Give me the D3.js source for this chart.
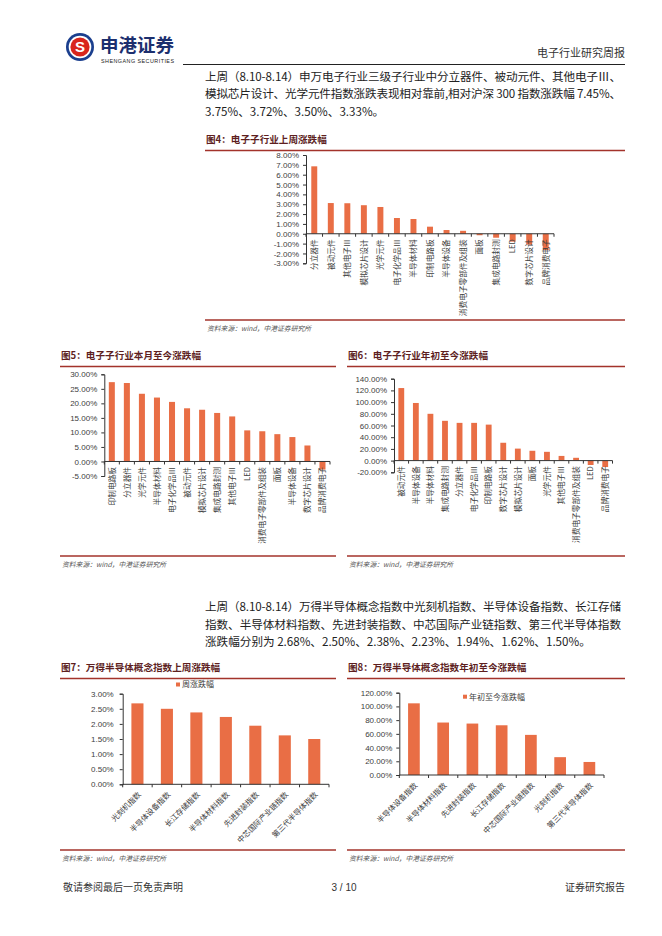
<!DOCTYPE html>
<html>
<head>
<meta charset="utf-8">
<script src="https://cdn.jsdelivr.net/npm/d3@7"></script>
<style>
  body { margin: 0; background: #fff; }
  svg { display: block; }
  .cjk { font-family: "Noto Sans CJK SC", sans-serif; }
  .num { font-family: "Liberation Sans", Arial, sans-serif; }
</style>
</head>
<body>
<div id="page"></div>
<script>
// ---- data ----
var fig4Cats = ["分立器件", "被动元件", "其他电子Ⅲ", "模拟芯片设计", "光学元件", "电子化学品Ⅲ", "半导体材料",
  "印制电路板", "半导体设备", "消费电子零部件及组装", "面板", "集成电路封测", "LED", "数字芯片设计", "品牌消费电子"];
var fig4Vals = [6.85, 3.12, 3.10, 2.90, 2.72, 1.60, 1.50, 0.72, 0.38, 0.30, -0.15, -0.40, -0.80, -1.10, -1.65];
var fig4Ticks = [-3, -2, -1, 0, 1, 2, 3, 4, 5, 6, 7, 8];

var fig5Cats = ["印制电路板", "分立器件", "光学元件", "半导体材料", "电子化学品Ⅲ", "被动元件", "模拟芯片设计",
  "集成电路封测", "其他电子Ⅲ", "LED", "消费电子零部件及组装", "面板", "半导体设备", "数字芯片设计", "品牌消费电子"];
var fig5Vals = [27.3, 27.0, 23.3, 22.0, 20.5, 18.3, 17.8, 16.7, 15.5, 10.7, 10.4, 9.4, 8.4, 5.5, -2.8];
var fig5Ticks = [-5, 0, 5, 10, 15, 20, 25, 30];

var fig6Cats = ["被动元件", "半导体设备", "半导体材料", "集成电路封测", "分立器件", "电子化学品Ⅲ", "印制电路板",
  "数字芯片设计", "模拟芯片设计", "面板", "光学元件", "其他电子Ⅲ", "消费电子零部件及组装", "LED", "品牌消费电子"];
var fig6Vals = [124, 98.5, 80, 68, 64.5, 64.5, 61.5, 30.5, 20.5, 16.8, 15, 8, 4.8, -7.5, -11];
var fig6Ticks = [-20, 0, 20, 40, 60, 80, 100, 120, 140];

var fig7Cats = ["光刻机指数", "半导体设备指数", "长江存储指数", "半导体材料指数", "先进封装指数", "中芯国际产业链指数", "第三代半导体指数"];
var fig7Vals = [2.68, 2.50, 2.38, 2.23, 1.94, 1.62, 1.50];
var fig7Ticks = [0, 0.5, 1, 1.5, 2, 2.5, 3];

var fig8Cats = ["半导体设备指数", "半导体材料指数", "先进封装指数", "长江存储指数", "中芯国际产业链指数", "光刻机指数", "第三代半导体指数"];
var fig8Vals = [104.5, 76.5, 75, 72.5, 58.5, 26, 19];
var fig8Ticks = [0, 20, 40, 60, 80, 100, 120];

var barColor = "#E96E45",
    ruleColor = "#A3332B",
    titleColor = "#5E1F1F",
    inkColor = "#404040";

var svg = d3.select("#page").append("svg")
  .attr("width", 662).attr("height", 936);
svg.append("rect").attr("width", 662).attr("height", 936).attr("fill", "#fff");

// ---- page header ----
var logo = svg.append("g").attr("transform", "translate(80,47)");
logo.append("circle").attr("r", 14).attr("fill", "#1B3F8E");
logo.append("circle").attr("r", 11.3).attr("fill", "#fff");
logo.append("circle").attr("r", 9.6).attr("fill", "#D9261C");
logo.append("text").attr("class", "num").attr("text-anchor", "middle").attr("dy", "0.36em")
  .attr("font-size", 15).attr("font-weight", "bold").attr("fill", "#fff").text("S");

svg.append("text").attr("class", "cjk").attr("x", 100).attr("y", 51.5)
  .attr("font-size", 18.5).attr("font-weight", "bold").attr("fill", "#1C2F6E").text("申港证券");
svg.append("text").attr("class", "num").attr("x", 101).attr("y", 62.5)
  .attr("font-size", 5.4).attr("fill", "#222").attr("textLength", 73).text("SHENGANG SECURITIES");
svg.append("text").attr("class", "cjk").attr("x", 625).attr("y", 57).attr("text-anchor", "end")
  .attr("font-size", 11).attr("fill", "#333").text("电子行业研究周报");
svg.append("line").attr("x1", 183).attr("x2", 625).attr("y1", 64.5).attr("y2", 64.5)
  .attr("stroke", "#222").attr("stroke-width", 1);

// ---- body text ----
function paragraph(lines, y0, gap) {
  lines.forEach(function(l, i) {
    var t = svg.append("text").attr("class", "cjk").attr("x", 205).attr("y", y0 + i * gap)
      .attr("font-size", 11.6).attr("fill", "#222").text(l.s);
    if (l.w) t.attr("textLength", l.w).attr("lengthAdjust", "spacing");
  });
}
paragraph([
  {s: "上周（8.10-8.14）申万电子行业三级子行业中分立器件、被动元件、其他电子Ⅲ、", w: 416},
  {s: "模拟芯片设计、光学元件指数涨跌表现相对靠前,相对沪深 300 指数涨跌幅 7.45%、", w: 416},
  {s: "3.75%、3.72%、3.50%、3.33%。"}
], 81, 17.3);
paragraph([
  {s: "上周（8.10-8.14）万得半导体概念指数中光刻机指数、半导体设备指数、长江存储", w: 416},
  {s: "指数、半导体材料指数、先进封装指数、中芯国际产业链指数、第三代半导体指数", w: 416},
  {s: "涨跌幅分别为 2.68%、2.50%、2.38%、2.23%、1.94%、1.62%、1.50%。"}
], 611, 17.5);

// ---- figure frame: title, rules, source ----
function frame(title, x0, x1, yTitle, yBottom) {
  svg.append("text").attr("class", "cjk").attr("x", x0 + 1).attr("y", yTitle)
    .attr("font-size", 9.6).attr("font-weight", "bold").attr("fill", titleColor).text(title);
  svg.append("line").attr("x1", x0).attr("x2", x1).attr("y1", yTitle + 7.5).attr("y2", yTitle + 7.5)
    .attr("stroke", ruleColor).attr("stroke-width", 1.3);
  svg.append("line").attr("x1", x0).attr("x2", x1).attr("y1", yBottom).attr("y2", yBottom)
    .attr("stroke", ruleColor).attr("stroke-width", 1.3);
  svg.append("text").attr("class", "cjk").attr("x", x0 + 2).attr("y", yBottom + 11)
    .attr("font-size", 6.8).attr("font-style", "italic").attr("fill", "#555")
    .text("资料来源：wind，中港证券研究所");
}

// ---- one bar chart ----
function drawBars(o) {
  var g = svg.append("g");

  var y = d3.scaleLinear().domain(o.domain).range([o.yBottom, o.yTop]);
  var x = d3.scaleBand().domain(o.cats).range([o.xLeft, o.xRight])
    .paddingInner(o.pad).paddingOuter(o.pad / 2);

  // y axis
  var yAxis = g.append("g").attr("transform", "translate(" + o.xLeft + ",0)")
    .call(d3.axisLeft(y).tickValues(o.ticks).tickSizeOuter(0).tickSize(3).tickPadding(o.tickPad || 4)
      .tickFormat(function(d) { return d.toFixed(2) + "%"; }));
  yAxis.select(".domain").attr("stroke", "#333");
  yAxis.selectAll(".tick line").attr("stroke", "#333");
  yAxis.selectAll("text").attr("class", "num").attr("font-size", 8).attr("fill", inkColor);

  // bars
  g.selectAll("rect.bar").data(o.vals).enter().append("rect")
    .attr("class", "bar")
    .attr("x", function(d, i) { return x(o.cats[i]); })
    .attr("y", function(d) { return y(Math.max(0, d)); })
    .attr("width", x.bandwidth())
    .attr("height", function(d) { return Math.abs(y(d) - y(0)); })
    .attr("fill", barColor);

  // category axis at zero
  var y0 = y(0);
  g.append("line").attr("x1", o.xLeft).attr("x2", o.xRight).attr("y1", y0).attr("y2", y0)
    .attr("stroke", "#333").attr("stroke-width", 1);
  g.selectAll("line.ct").data(d3.range(o.cats.length + 1)).enter().append("line")
    .attr("class", "ct")
    .attr("x1", function(i) { return o.xLeft + i * x.step(); })
    .attr("x2", function(i) { return o.xLeft + i * x.step(); })
    .attr("y1", y0).attr("y2", y0 + 3)
    .attr("stroke", "#333");

  // category labels
  g.selectAll("text.cat").data(o.cats).enter().append("text")
    .attr("class", "cjk")
    .attr("text-anchor", "end")
    .attr("dy", "0.36em")
    .attr("font-size", o.labelSize)
    .attr("fill", inkColor)
    .attr("transform", function(d) {
      var cx = x(d) + x.bandwidth() / 2;
      return "translate(" + (cx + o.labelDx) + "," + (y0 + o.labelDy) + ")rotate(" + o.rotate + ")";
    })
    .text(function(d) { return d; });

  // legend
  if (o.legend) {
    g.append("rect").attr("x", o.legend.x).attr("y", o.legend.y - 2).attr("width", 4).attr("height", 4)
      .attr("fill", barColor);
    g.append("text").attr("class", "cjk").attr("x", o.legend.x + 6).attr("y", o.legend.y)
      .attr("dy", "0.36em").attr("font-size", 8).attr("fill", inkColor).text(o.legend.text);
  }
}

// 图4
frame("图4：电子子行业上周涨跌幅", 205, 625, 143, 320);
drawBars({cats: fig4Cats, vals: fig4Vals, ticks: fig4Ticks, domain: [-3, 8],
  yBottom: 263.3, yTop: 155, xLeft: 306, xRight: 554, pad: 0.64,
  rotate: -90, labelDx: 0, labelDy: 5.5, labelSize: 7.7});

// 图5
frame("图5：电子子行业本月至今涨跌幅", 60, 336, 359, 556);
drawBars({cats: fig5Cats, vals: fig5Vals, ticks: fig5Ticks, domain: [-5, 30],
  yBottom: 476, yTop: 374.3, xLeft: 104.3, xRight: 330, pad: 0.6,
  rotate: -90, labelDx: 0, labelDy: 5.5, labelSize: 7.7});

// 图6
frame("图6：电子子行业年初至今涨跌幅", 347, 625, 359, 556);
drawBars({cats: fig6Cats, vals: fig6Vals, ticks: fig6Ticks, domain: [-20, 140],
  yBottom: 472.3, yTop: 378.7, xLeft: 394, xRight: 612.5, pad: 0.6,
  rotate: -90, labelDx: 0, labelDy: 5.5, labelSize: 7.7});

// 图7
frame("图7：万得半导体概念指数上周涨跌幅", 60, 336, 671, 850);
drawBars({cats: fig7Cats, vals: fig7Vals, ticks: fig7Ticks, domain: [0, 3],
  yBottom: 784.3, yTop: 693.7, xLeft: 122.7, xRight: 329, pad: 0.59, tickPad: 6,
  rotate: -45, labelDx: 2, labelDy: 9, labelSize: 7.6,
  legend: {x: 176, y: 684.5, text: "周涨跌幅"}});

// 图8
frame("图8：万得半导体概念指数年初至今涨跌幅", 347, 625, 671, 850);
drawBars({cats: fig8Cats, vals: fig8Vals, ticks: fig8Ticks, domain: [0, 120],
  yBottom: 775, yTop: 692.7, xLeft: 399.3, xRight: 604, pad: 0.6,
  rotate: -45, labelDx: 2, labelDy: 9, labelSize: 7.6,
  legend: {x: 463, y: 696.7, text: "年初至今涨跌幅"}});

// ---- footer ----
svg.append("text").attr("class", "cjk").attr("x", 63).attr("y", 891)
  .attr("font-size", 10).attr("fill", "#333").text("敬请参阅最后一页免责声明");
svg.append("text").attr("class", "num").attr("x", 344).attr("y", 891).attr("text-anchor", "middle")
  .attr("font-size", 10).attr("fill", "#333").text("3 / 10");
svg.append("text").attr("class", "cjk").attr("x", 625).attr("y", 891).attr("text-anchor", "end")
  .attr("font-size", 10).attr("fill", "#333").text("证券研究报告");
</script>
</body>
</html>
